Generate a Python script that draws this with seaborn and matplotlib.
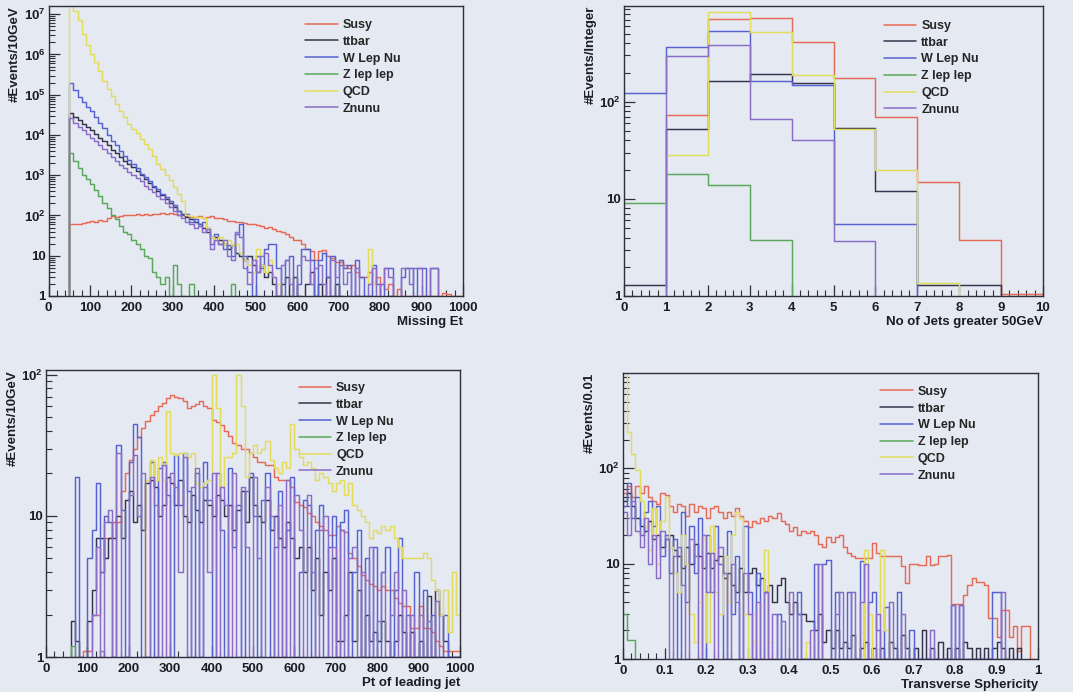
import numpy as np
import pandas as pd
import matplotlib
matplotlib.use("Agg")
import matplotlib.pyplot as plt
from matplotlib.ticker import FixedLocator, FixedFormatter, MultipleLocator, LogLocator, NullFormatter, FuncFormatter
from matplotlib.lines import Line2D
import seaborn as sns

# ---------------------------------------------------------------- samples
SAMPLES = ["Susy", "ttbar", "W Lep Nu", "Z lep lep", "QCD", "Znunu"]

# ---------------------------------------------------------------- Missing Et (10 GeV bins, 0-1000)
MET_SUSY = [
    0, 0, 0, 0, 0, 60, 62, 60, 65, 68,
    72, 70, 78, 75, 85, 95, 90, 98, 100, 105,
    100, 108, 105, 110, 105, 112, 108, 115, 110, 118,
    112, 105, 100, 95, 90, 92, 95, 88, 92, 95,
    85, 88, 80, 75, 72, 68, 70, 65, 60, 62,
    58, 55, 50, 52, 46, 42, 38, 35, 30, 25,
    25, 20, 15, 13, 8, 13, 14, 10, 9, 7,
    7, 6, 5, 6, 4, 3, 3, 4, 2, 3,
    2, 1.5, 2, 1, 1.5, 1, 1, 1, 1, 1,
    1, 1, 1, 1, 1, 1.2, 1.1, 1, 1, 1,
]
MET_TTBAR = [
    0, 0, 0, 0, 0, 35000, 28000, 23000, 19000, 16000,
    13000, 10500, 8500, 7000, 5500, 4200, 3500, 2800, 2200, 1900,
    1600, 1300, 1000, 800, 650, 500, 400, 330, 250, 200,
    160, 130, 110, 90, 80, 70, 60, 50, 40, 30,
    30, 25, 20, 15, 18, 12, 10, 8, 10, 6,
    4, 6, 3, 4, 2, 1, 2, 3, 1, 3,
    1, 0, 2, 4, 1, 2, 1, 3, 1, 2,
    1, 0, 1, 0, 1, 0, 0, 1, 0, 0,
    0, 0, 1, 0, 0, 0, 0, 0, 0, 0,
    0, 0, 0, 0, 0, 0, 0, 0, 0, 0,
]
MET_WLNU = [
    0, 0, 0, 0, 0, 200000, 130000, 90000, 65000, 50000,
    40000, 28000, 20000, 15000, 10000, 7000, 5500, 4000, 3000, 2400,
    1900, 1500, 1100, 900, 700, 550, 450, 350, 280, 230,
    180, 130, 100, 110, 70, 80, 60, 70, 50, 20,
    35, 20, 15, 18, 10, 35, 60, 10, 4, 1,
    10, 5, 15, 20, 20, 5, 1, 8, 10, 0,
    2, 15, 15, 8, 0, 8, 12, 3, 10, 1,
    8, 5, 6, 0, 8, 3, 1, 0, 6, 2,
    0, 5, 5, 0, 0, 3, 5, 5, 0, 5,
    5, 0, 5, 5, 0, 0, 0, 0, 0, 0,
]
MET_ZLL = [
    0, 0, 0, 0, 0, 3500, 2200, 1500, 1000, 800,
    600, 420, 300, 200, 150, 100, 80, 55, 40, 35,
    25, 20, 15, 10, 9, 4, 3, 2, 3, 1,
    6, 2, 1, 0, 2, 1, 1, 1, 0, 0,
    0, 0, 0, 0, 2, 0, 0, 0, 0, 0,
    0, 0, 0, 0, 0, 0, 0, 0, 0, 0,
    0, 0, 0, 0, 0, 0, 0, 0, 0, 0,
    0, 0, 0, 0, 0, 0, 0, 0, 0, 0,
    0, 0, 0, 0, 0, 0, 0, 0, 0, 0,
    0, 0, 0, 0, 0, 0, 0, 0, 0, 0,
]
MET_QCD = [
    0, 0, 0, 0, 0, 20000000, 12000000, 7000000, 3200000, 1700000,
    1000000, 650000, 380000, 220000, 140000, 95000, 60000, 40000, 28000, 19000,
    14000, 11000, 8000, 6000, 4500, 3000, 1900, 1400, 1000, 750,
    500, 350, 230, 100, 95, 90, 90, 85, 50, 30,
    25, 30, 20, 25, 18, 20, 12, 8, 6, 4,
    15, 6, 4, 8, 3, 2, 1, 0, 1, 0,
    0, 1, 0, 0, 0, 0, 0, 0, 0, 0,
    0, 0, 0, 0, 0, 0, 0, 15, 2, 0,
    0, 0, 0, 0, 0, 0, 0, 0, 0, 0,
    0, 0, 0, 0, 0, 0, 0, 0, 0, 0,
]
MET_ZNUNU = [
    0, 0, 0, 0, 0, 26000, 20000, 16000, 13000, 10500,
    8500, 7000, 5500, 4500, 3600, 2800, 2300, 1800, 1500, 1200,
    1000, 850, 700, 550, 450, 380, 300, 250, 200, 160,
    130, 100, 85, 70, 60, 50, 55, 40, 45, 15,
    25, 20, 25, 10, 8, 40, 30, 5, 2, 8,
    4, 10, 12, 6, 3, 1, 6, 8, 2, 0,
    6, 10, 8, 2, 5, 6, 2, 0, 8, 3,
    6, 2, 4, 0, 5, 1, 0, 2, 5, 0,
    2, 5, 3, 0, 0, 5, 5, 2, 5, 5,
    0, 0, 5, 5, 0, 0, 0, 0, 0, 0,
]

# ---------------------------------------------------------------- number of jets above 50 GeV
NJ_SUSY = [0, 73, 710, 730, 415, 175, 69, 15, 3.8, 1.05]
NJ_TTBAR = [1.3, 53, 165, 195, 155, 54, 12, 1.3, 1.3, 0]
NJ_WLNU = [122, 364, 540, 163, 150, 5.5, 5.5, 0, 0, 0]
NJ_ZLL = [9.1, 18, 14, 3.8, 0, 0, 0, 0, 0, 0]
NJ_QCD = [0, 28, 850, 520, 190, 53, 20, 1.35, 0, 0]
NJ_ZNUNU = [0, 295, 385, 66, 40, 3.65, 0, 0, 0, 0]

# ---------------------------------------------------------------- Pt of leading jet (10 GeV bins)
PT_SUSY = [
    0, 0, 0, 0, 0, 0, 1, 1, 0, 1.1,
    1.1, 2, 2, 4, 7, 7, 9, 9, 15, 20,
    25, 30, 36, 42, 47, 52, 55, 60, 63, 68,
    72, 70, 68, 65, 58, 60, 62, 65, 60, 58,
    48, 46, 44, 40, 37, 33, 32, 30, 30, 28,
    26, 24, 24, 23, 23, 19, 18, 18, 18, 16,
    12.5, 12, 11.5, 10.5, 10, 9, 8.5, 8, 7.3, 7.3,
    8.5, 8, 7.7, 5.5, 5, 4.4, 3.8, 3.5, 3.3, 3.2,
    3, 3.2, 3, 3, 2.6, 2.4, 2.3, 2.3, 1.6, 1.6,
    2.3, 1.6, 1.6, 1.5, 1.3, 1.2, 1.1, 1.1, 1.1, 1.1,
]
PT_TTBAR = [
    0, 0, 0, 0, 0, 0, 1.8, 1.3, 0, 0,
    1.8, 3, 7, 7, 5, 7, 7, 10, 7, 13,
    15, 9, 12, 8, 17, 18, 16, 10, 12, 19,
    17, 12, 18, 10, 9, 14, 11, 9, 13, 12,
    10, 14, 13, 10, 12, 8, 11, 15, 9, 19,
    12, 10, 9, 13, 8, 10, 7, 6, 9, 7,
    5, 6, 4, 6, 3, 5, 2, 4, 3, 5,
    1.3, 1.3, 2, 4, 1.3, 3, 1, 2, 1.3, 1.5,
    1.3, 1.8, 1.3, 1, 1.3, 2, 1.5, 1, 1.5, 1,
    1.3, 1, 2.7, 1, 3, 2, 1.3, 1, 1, 1,
]
PT_WLNU = [
    0, 0, 0, 0, 0, 0, 0, 19, 1, 0,
    5, 8, 17, 4, 10, 9, 1, 32, 11, 1,
    24, 45, 36, 1, 1, 24, 1, 22, 24, 14,
    1, 27, 12, 28, 15, 1, 20, 1, 24, 13,
    1, 20, 8, 1, 22, 6, 12, 1, 15, 20,
    10, 1, 13, 20, 1, 6, 15, 1, 8, 19,
    1, 4, 13, 12, 1, 8, 12, 1, 6, 10,
    1, 9, 11, 1, 4, 8, 1, 5, 1, 6,
    1, 4, 6, 1, 3, 7, 1, 2, 1, 4,
    1, 3, 1, 2, 1, 1, 2, 1, 1, 1,
]
PT_ZLL = [
    0, 0, 0, 0, 0, 0, 1.2, 0, 0, 0,
    0, 0, 0, 1.1, 0, 0, 0, 0, 0, 0,
    0, 0, 0, 0, 0, 0, 0, 0, 0, 0,
    0, 0, 0, 0, 0, 0, 0, 0, 0, 0,
    0, 0, 0, 0, 0, 0, 0, 0, 0, 0,
    0, 0, 0, 0, 0, 0, 0, 0, 0, 0,
    0, 0, 0, 0, 0, 0, 0, 0, 0, 0,
    0, 0, 0, 0, 0, 0, 0, 0, 0, 0,
    0, 0, 0, 0, 0, 0, 0, 0, 0, 0,
    0, 0, 0, 0, 0, 0, 0, 0, 0, 0,
]
PT_QCD = [
    0, 0, 0, 0, 0, 0, 0, 0, 0, 0,
    0, 0, 0, 0, 0, 0, 0, 0, 0, 0,
    0, 0, 0, 0, 18, 25, 18, 26, 18, 55,
    28, 27, 28, 28, 26, 28, 17, 16, 17, 18,
    100, 58, 16, 26, 26, 28, 100, 60, 19, 28,
    32, 28, 30, 34, 25, 22, 20, 24, 22, 45,
    30, 26, 23, 24, 22, 18, 20, 19, 17, 15,
    17, 18, 14, 17, 12, 11, 10, 9, 7, 8,
    7.5, 8.5, 8, 8.5, 7, 6, 5, 5, 5, 5,
    5, 5.5, 5, 3.5, 3, 2, 3, 1.5, 4, 2,
]
PT_ZNUNU = [
    0, 0, 0, 0, 0, 0, 0, 0, 1, 0,
    0, 2, 6, 1, 9, 11, 1, 28, 1, 1,
    14, 27, 10, 20, 1, 19, 12, 1, 23, 1,
    20, 16, 4, 26, 1, 16, 22, 1, 16, 4,
    20, 1, 16, 12, 1, 20, 1, 16, 6, 1,
    19, 5, 1, 16, 10, 1, 12, 1, 18, 1,
    14, 8, 1, 14, 4, 1, 8, 10, 1, 6,
    1, 8, 1, 5, 6, 1, 4, 1, 6, 1,
    1.8, 4, 1, 2, 4, 1, 3, 1, 2, 1,
    2, 1, 1.8, 1, 2.5, 1, 1, 1, 1, 1,
]

# ---------------------------------------------------------------- transverse sphericity (0.01 bins)
SPH_SUSY = [
    55, 65, 50, 65, 55, 65, 50, 45, 42, 55,
    52, 40, 35, 42, 40, 32, 42, 35, 40, 38,
    30, 38, 40, 35, 30, 35, 32, 38, 32, 28,
    24, 28, 27, 30, 28, 32, 30, 34, 28, 26,
    22, 24, 20, 22, 21, 22, 20, 16, 15, 19,
    17, 19, 20, 15, 13, 12, 11.5, 11.5, 11.5, 11.5,
    16.6, 13, 12, 12, 12, 12, 12, 9.4, 6.3, 10,
    10, 9.6, 9.6, 12, 9.6, 10, 12, 12, 12.2, 3.8,
    3.8, 3.8, 4.7, 6, 7, 6.5, 6.5, 6, 2.7, 2.7,
    1.7, 3.3, 3.3, 1.7, 2.2, 1.2, 2.2, 2.2, 1, 0,
]
SPH_TTBAR = [
    45, 55, 40, 30, 25, 22, 28, 18, 20, 15,
    18, 20, 14, 12, 9, 15, 10, 16, 12, 9,
    13, 9, 11, 12, 7, 8, 6, 5, 9, 5,
    8, 9, 6, 7, 5, 6, 4, 6, 7, 4,
    3, 4, 3, 3, 2.5, 2.5, 2, 3, 1.5, 2,
    1.3, 2, 1.3, 1.5, 1.3, 1.8, 1, 1.3, 1.5, 1,
    1.3, 1, 1.3, 1, 1.5, 1.3, 1, 1.8, 1.3, 1,
    1.3, 1, 2, 1, 1.3, 1, 1.5, 1, 1.3, 1,
    1.3, 1, 1.5, 1.3, 1, 1.3, 1, 1.3, 1, 1.3,
    1.5, 1.3, 1, 1.3, 1, 1.3, 0, 0, 0, 0,
]
SPH_WLNU = [
    40, 70, 30, 50, 20, 35, 45, 25, 40, 12,
    20, 8, 18, 1, 35, 4, 25, 8, 30, 1,
    20, 5, 25, 10, 1, 22, 3, 12, 1, 25,
    5, 1, 8, 1, 5, 1, 1, 3, 1, 1,
    1, 1, 5, 1, 1, 1, 10, 1, 10, 10.8,
    1, 5, 1, 1, 5, 1, 1, 10.6, 1, 4,
    5, 2, 1, 3.5, 1, 1, 5, 1, 1, 2,
    1, 1, 1, 1, 1, 1, 1, 1, 1, 3.7,
    1, 3.7, 1, 1, 1, 1, 1, 1, 1, 5,
    5, 1, 1, 0, 0, 0, 0, 0, 0, 0,
]
SPH_ZLL = [
    3, 1.6, 1.6, 1, 0, 0, 0, 0, 0, 0,
    0, 0, 0, 0, 0, 0, 0, 0, 0, 0,
    0, 0, 0, 0, 0, 0, 0, 0, 0, 0,
    0, 0, 0, 0, 0, 0, 0, 0, 0, 0,
    0, 0, 0, 0, 0, 0, 0, 0, 0, 0,
    0, 0, 0, 0, 0, 0, 0, 0, 0, 0,
    0, 0, 0, 0, 0, 0, 0, 0, 0, 0,
    0, 0, 0, 0, 0, 0, 0, 0, 0, 0,
    0, 0, 0, 0, 0, 0, 0, 0, 0, 0,
    0, 0, 0, 0, 0, 0, 0, 0, 0, 0,
]
SPH_QCD = [
    1200, 240, 140, 95, 45, 25, 14, 38, 10, 28,
    50, 15, 8, 5, 20, 10, 3, 1.5, 4, 18,
    1.5, 25, 5, 3, 12, 4, 20, 35, 30, 3,
    1, 1.5, 1, 1, 14, 1.5, 1, 0, 0, 0,
    0, 0, 0, 0, 1.5, 0, 0, 0, 1, 0,
    0, 0, 0, 0, 0, 0, 0, 0, 14, 3,
    0, 0, 14, 2, 0, 0, 0, 0, 0, 0,
    0, 0, 0, 0, 0, 0, 0, 0, 0, 0,
    0, 0, 0, 0, 0, 0, 0, 0, 0, 0,
    0, 0, 0, 0, 0, 0, 0, 0, 0, 0,
]
SPH_ZNUNU = [
    35, 20, 45, 22, 15, 30, 10, 20, 7, 22,
    18, 1, 12, 15, 6, 1, 18, 12, 1, 20,
    5, 13, 1, 15, 8, 1, 10, 4, 1, 8,
    3, 1, 4, 1, 5, 1, 3, 1, 2.5, 1,
    5, 1, 3, 1, 1, 2, 1, 10, 1, 1,
    1, 3, 5, 1, 1, 5, 1, 4, 10, 1,
    1, 3, 1, 1, 4, 1, 1, 3, 1, 1,
    1, 1, 1, 1, 2, 1, 1, 1, 1, 3.7,
    1, 3.7, 1, 1, 1, 1, 1, 1, 1, 1,
    1, 5, 0, 0, 0, 0, 0, 0, 0, 0,
]

# ---------------------------------------------------------------- style
BG = "#e5e9f2"
FRAME = "#2e2e3c"
TEXT = "#1c1c24"
COLORS = ["#e66a55", "#34344c", "#5662d0", "#5aa85a", "#e2dc5a", "#8a6cc6"]

sns.set_theme(style="ticks")
plt.rcParams.update({
    "font.family": ["Liberation Sans", "DejaVu Sans"],
    "font.weight": "bold",
    "mathtext.fontset": "custom",
    "mathtext.rm": "Liberation Sans:bold",
    "mathtext.it": "Liberation Sans:bold",
    "mathtext.bf": "Liberation Sans:bold",
    "figure.facecolor": BG,
    "axes.facecolor": BG,
    "savefig.facecolor": BG,
})

FS = 9.5
LEG_FS = 9.0


def decade_label(v):
    if v == 1:
        return "1"
    if v == 10:
        return "10"
    return r"$10^{%d}$" % int(round(np.log10(v)))


def draw_panel(ax, edges, series, ymax, top_decade, xmajor, xminor, xfmt,
               xlabel, ylabel, anchor):
    edges = np.asarray(edges, dtype=float)
    centers = 0.5 * (edges[:-1] + edges[1:])
    for color, vals in zip(COLORS, series):
        df = pd.DataFrame({"x": centers, "w": np.asarray(vals, dtype=float)})
        sns.histplot(data=df, x="x", weights="w", bins=list(edges),
                     element="step", fill=False, color=color, linewidth=1.05, ax=ax)
    ax.set_yscale("log")
    ax.set_xlim(edges[0], edges[-1])
    ax.set_ylim(1, ymax)

    decades = [10.0 ** k for k in range(0, top_decade + 1)]
    ax.yaxis.set_major_locator(FixedLocator(decades))
    ax.yaxis.set_major_formatter(FixedFormatter([decade_label(v) for v in decades]))
    ax.yaxis.set_minor_locator(LogLocator(base=10, subs=np.arange(2, 10)))
    ax.yaxis.set_minor_formatter(NullFormatter())

    ax.xaxis.set_major_locator(MultipleLocator(xmajor))
    ax.xaxis.set_minor_locator(MultipleLocator(xminor))
    ax.xaxis.set_major_formatter(FuncFormatter(xfmt))

    ax.tick_params(axis="both", which="major", direction="in", length=8, width=0.9,
                   color=FRAME, labelsize=FS, labelcolor=TEXT, top=False, right=False)
    ax.tick_params(axis="both", which="minor", direction="in", length=4, width=0.8,
                   color=FRAME, top=False, right=False)
    ax.tick_params(axis="x", which="major", pad=4)
    ax.tick_params(axis="y", which="major", pad=2)
    for lab in ax.get_xticklabels() + ax.get_yticklabels():
        lab.set_fontweight("bold")

    for sp in ax.spines.values():
        sp.set_visible(True)
        sp.set_color(FRAME)
        sp.set_linewidth(1.0)

    ax.set_xlabel(xlabel, loc="right", fontsize=FS, fontweight="bold", labelpad=2, color=TEXT)
    ax.set_ylabel(ylabel, loc="top", fontsize=FS, fontweight="bold", labelpad=2, color=TEXT)

    handles = [Line2D([], [], color=c, linewidth=1.1) for c in COLORS]
    ax.legend(handles, SAMPLES, loc="upper left", bbox_to_anchor=anchor, frameon=False,
              prop={"weight": "bold", "size": LEG_FS}, handlelength=2.6, handletextpad=0.4,
              labelspacing=0.38, borderaxespad=0.0, borderpad=0.0)


def fmt_int(v, pos):
    return "%d" % int(round(v))


def fmt_frac(v, pos):
    if abs(v) < 1e-9:
        return "0"
    if abs(v - 1) < 1e-9:
        return "1"
    return "%.1f" % v


fig = plt.figure(figsize=(10.73, 6.92), dpi=100)
W, H = 1073.0, 692.0


def add_axes(x0, x1, ytop, ybot):
    return fig.add_axes([x0 / W, 1 - ybot / H, (x1 - x0) / W, (ybot - ytop) / H])


ax1 = add_axes(48.5, 463, 6, 296)
ax2 = add_axes(624, 1043, 6, 296)
ax3 = add_axes(46, 460, 370, 657)
ax4 = add_axes(623, 1038, 373, 659)

edges_10gev = np.linspace(0, 1000, 101)
edges_jets = np.arange(0, 11)
edges_sph = np.linspace(0, 1, 101)

draw_panel(ax1, edges_10gev, [MET_SUSY, MET_TTBAR, MET_WLNU, MET_ZLL, MET_QCD, MET_ZNUNU],
           1.6e7, 7, 100, 20, fmt_int, "Missing Et", "#Events/10GeV", (0.62, 0.955))
draw_panel(ax2, edges_jets, [NJ_SUSY, NJ_TTBAR, NJ_WLNU, NJ_ZLL, NJ_QCD, NJ_ZNUNU],
           970, 2, 1, 0.2, fmt_int, "No of Jets greater 50GeV", "#Events/Integer", (0.62, 0.952))
draw_panel(ax3, edges_10gev, [PT_SUSY, PT_TTBAR, PT_WLNU, PT_ZLL, PT_QCD, PT_ZNUNU],
           108, 2, 100, 20, fmt_int, "Pt of leading jet", "#Events/10GeV", (0.61, 0.958))
draw_panel(ax4, edges_sph, [SPH_SUSY, SPH_TTBAR, SPH_WLNU, SPH_ZLL, SPH_QCD, SPH_ZNUNU],
           1000, 2, 0.1, 0.02, fmt_frac, "Transverse Sphericity", "#Events/0.01", (0.62, 0.955))

fig.savefig("out.png", dpi=100, facecolor=BG)
